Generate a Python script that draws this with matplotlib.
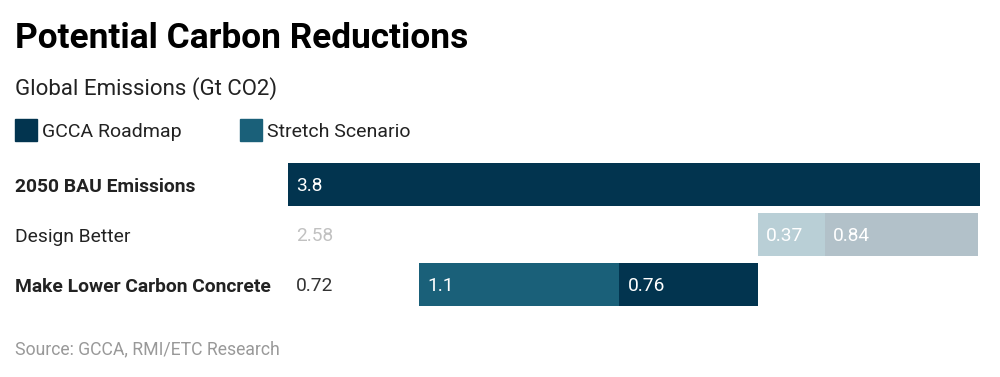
import matplotlib
matplotlib.use("Agg")
import matplotlib.pyplot as plt

plt.rcParams['font.family'] = ['Roboto', 'DejaVu Sans']

# data
categories = ['2050 BAU Emissions', 'Design Better', 'Make Lower Carbon Concrete']
base = [0, 2.58, 0.72]        # invisible offset (waterfall)
stretch = [0, 0.37, 1.1]      # Stretch Scenario
gcca = [3.8, 0.84, 0.76]      # GCCA Roadmap
bold_rows = [True, False, True]
row_alpha = [1.0, 0.3, 1.0]

navy = '#02344f'
teal = '#1a6079'

fig = plt.figure(figsize=(10, 3.77), dpi=100)
ax = fig.add_axes([0.288, 1 - 309 / 377, 0.692, 150 / 377])

y = list(range(len(categories)))
for i in y:
    a = row_alpha[i]
    left = base[i]
    if base[i] > 0:
        ax.annotate(f'{base[i]:g}', xy=(0, i), xytext=(8, -2), textcoords='offset pixels',
                    ha='left', va='center', fontsize=13.8, color='#333333', alpha=a)
    if stretch[i] > 0:
        ax.barh(i, stretch[i], left=left, height=0.86, color=teal, alpha=a, linewidth=0)
        ax.annotate(f'{stretch[i]:g}', xy=(left, i), xytext=(8, -2), textcoords='offset pixels',
                    ha='left', va='center', fontsize=13.8, color='white')
        left += stretch[i]
    if gcca[i] > 0:
        ax.barh(i, gcca[i], left=left, height=0.86, color=navy, alpha=a, linewidth=0)
        ax.annotate(f'{gcca[i]:g}', xy=(left, i), xytext=(8, -2), textcoords='offset pixels',
                    ha='left', va='center', fontsize=13.8, color='white')
    ax.annotate(categories[i], xy=(15 / 1000, i), xycoords=('figure fraction', 'data'),
                xytext=(0, -2.5), textcoords='offset pixels',
                ha='left', va='center', fontsize=13.9, color='#222222',
                fontweight='bold' if bold_rows[i] else 'normal')

ax.set_xlim(0, 3.8)
ax.set_ylim(2.5, -0.5)
ax.axis('off')

fig.text(15 / 1000, 1 - 39 / 377, 'Potential Carbon Reductions', fontsize=25.4,
         fontweight='bold', color='black', va='center', ha='left')
fig.text(15 / 1000, 1 - 89 / 377, 'Global Emissions (Gt CO2)', fontsize=16,
         color='#222222', va='center', ha='left')

# legend
for x0, lab, col in [(15, 'GCCA Roadmap', navy), (240, 'Stretch Scenario', teal)]:
    fig.patches.append(plt.Rectangle((x0 / 1000, 1 - 141 / 377), 22 / 1000, 22 / 377,
                                     transform=fig.transFigure, color=col, figure=fig))
    fig.text((x0 + 27) / 1000, 1 - 132 / 377, lab, fontsize=14, color='#222222',
             va='center', ha='left')

fig.text(15 / 1000, 1 - 349 / 377, 'Source: GCCA, RMI/ETC Research', fontsize=12.7,
         color='#999999', va='center', ha='left')

fig.savefig('out.png', dpi=100)
